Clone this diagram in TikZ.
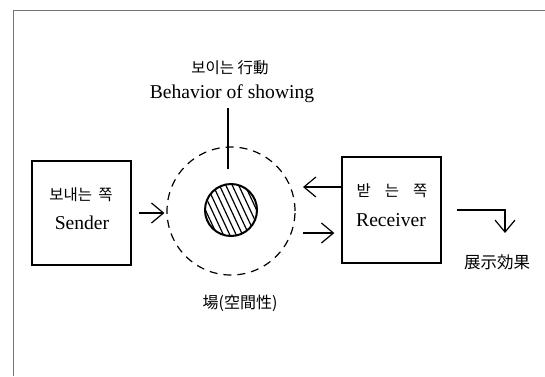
\documentclass[tikz,border=0pt]{standalone}
\usepackage{fontspec}
\setmainfont{Liberation Serif}
\newfontfamily\kr{Noto Sans CJK KR}
\usetikzlibrary{arrows.meta,calc}
\begin{document}
\begin{tikzpicture}[x=1pt,y=-1pt,
  box/.style={draw, line width=1.3pt, minimum width=99pt, inner sep=0pt},
  lat/.style={inner sep=0pt, font=\fontsize{19.6}{21}\selectfont},
  han/.style={inner sep=0pt, font=\kr\fontsize{15.5}{18}\selectfont},
  arr/.style={line width=1.2pt, -{Straight Barb[length=12pt,width=20pt,line width=1.2pt]}},
  frame/.style={draw=black!55, line width=0.8pt}]
\useasboundingbox (0,0) rectangle (545,376);
% frame
\draw[frame] (13,376) -- (13,10) -- (545,10);
% boxes
\node[box, minimum height=104pt] (sender) at (81.5,213) {};
\node[box, minimum height=106pt] (receiver) at (391.5,210) {};
\node[han] (sendkr) at (81,195) {보내는\hspace{0.4em}쪽};
\node[lat] (sendtxt) at (82,223) {Sender};
\node[han] (reckr) at (392,191) {받\hspace{0.9em}는\hspace{0.9em}쪽};
\node[lat] (rectxt) at (391,220) {Receiver};
% field
\node[circle, draw, line width=1.2pt, dash pattern=on 8pt off 6pt, minimum size=128pt, inner sep=0pt] (field) at (231,211) {};
\node[circle, minimum size=52pt, inner sep=0pt] (core) at (231,210) {};
\begin{scope}
  \clip (core.center) circle (26pt);
  \foreach \i in {-6,...,6} {
    \draw[line width=1.2pt] ($(core.center)+(\i*0.906*5.8,-\i*0.423*5.8)+(-0.423*40,-0.906*40)$) -- ++(0.423*80,0.906*80);
  }
\end{scope}
\draw[line width=2pt] (core.center) circle (26pt);
% top labels
\node[han] (showkr) at (230,68) {보이는 行動};
\node[lat] (showtxt) at (232,94) {Behavior of showing};
\coordinate (lt) at (228,108);
\coordinate (lb) at (228,169);
\draw[line width=1.2pt] (lt) -- (lb);
\node[han, font=\kr\fontsize{16}{18}\selectfont] (place) at (240,303) {場(空間性)};
% arrows
\draw[arr, shorten <=7pt, shorten >=2pt] (sender.east) -- (sender.east -| field.west);
\coordinate (fu) at (303,187);
\coordinate (fl) at (303,233);
\draw[arr] (receiver.west |- fu) -- (fu);
\draw[arr, shorten >=7pt] (fl) -- (receiver.west |- fl);
\coordinate (out) at (505,233);
\draw[arr] ([xshift=15pt]receiver.east) -| (out);
\node[han, font=\kr\fontsize{16.5}{18}\selectfont] (effect) at (497,262) {展示効果};
\end{tikzpicture}
\end{document}
